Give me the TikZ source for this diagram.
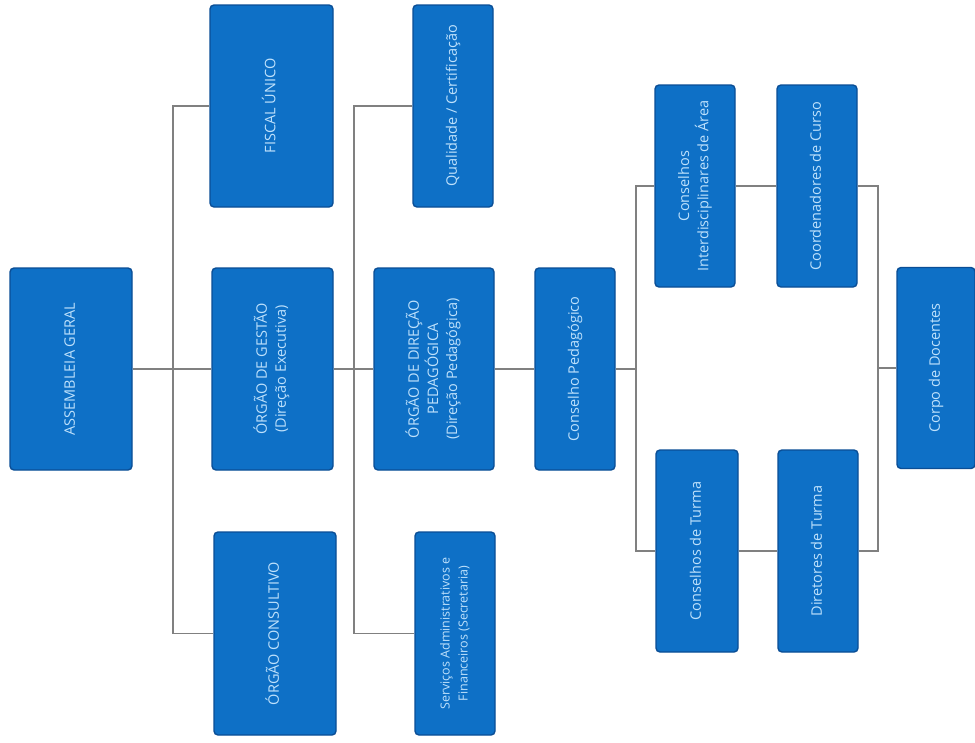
\documentclass[tikz,border=0pt]{standalone}
\usepackage{fontspec}
\setmainfont{Open Sans}
\definecolor{boxfill}{RGB}{14,112,198}
\definecolor{boxline}{RGB}{10,78,150}
\definecolor{boxtext}{RGB}{190,225,252}
\definecolor{conn}{RGB}{128,128,128}
\begin{document}
\begin{tikzpicture}[x=1pt,y=-1pt,
  orgbox/.style={draw=boxline, line width=1.4pt, fill=boxfill, rounded corners=4pt,
    minimum height=202pt, inner sep=0pt, text=boxtext,
    font=\fontsize{14.5}{19}\selectfont},
  link/.style={draw=conn, line width=1.1pt}]
\useasboundingbox (0,0) rectangle (975,742);
\fill[white] (0,0) rectangle (975,742);
\newcommand{\rt}[1]{\rotatebox{90}{\begin{tabular}{@{}c@{}}#1\end{tabular}}}
% boxes
\node[orgbox, minimum width=122pt] (ag) at (71,369) {\rt{ASSEMBLEIA GERAL}};
\node[orgbox, minimum width=123pt] (fiscal) at (271.5,106) {\rt{FISCAL ÚNICO}};
\node[orgbox, minimum width=121pt] (gestao) at (272.5,369) {\rt{ÓRGÃO DE GESTÃO\\(Direção Executiva)}};
\node[orgbox, minimum width=122pt, minimum height=203pt] (consult) at (275,633.5) {\rt{ÓRGÃO CONSULTIVO}};
\node[orgbox, minimum width=80pt] (qual) at (453,106) {\rt{Qualidade / Certificação}};
\node[orgbox, minimum width=120pt] (dir) at (434,369) {\rt{ÓRGÃO DE DIREÇÃO\\PEDAGÓGICA\\(Direção Pedagógica)}};
\node[orgbox, minimum width=80pt, minimum height=203pt, font=\fontsize{12.5}{18}\selectfont] (serv) at (455,633.5) {\rt{Serviços Administrativos e\\Financeiros (Secretaria)}};
\node[orgbox, minimum width=80pt] (cp) at (575,369) {\rt{Conselho Pedagógico}};
\node[orgbox, minimum width=80pt] (cons) at (695,186) {\rt{Conselhos\\Interdisciplinares de Área}};
\node[orgbox, minimum width=80pt] (coord) at (817,186) {\rt{Coordenadores de Curso}};
\node[orgbox, minimum width=82pt] (ct) at (697,551) {\rt{Conselhos de Turma}};
\node[orgbox, minimum width=80pt] (dt) at (818,551) {\rt{Diretores de Turma}};
\node[orgbox, minimum width=78pt, minimum height=201pt] (corpo) at (936,368) {\rt{Corpo de Docentes}};
% junctions
\coordinate (j1) at (173,369);
\coordinate (j2) at (354,369);
\coordinate (j3) at (636,369);
\coordinate (j4) at (878,368);
% connectors
\path[link] (ag) -- (gestao);
\path[link] (fiscal.west) -| (j1) |- (consult.west);
\path[link] (gestao) -- (dir);
\path[link] (qual.west) -| (j2) |- (serv.west);
\path[link] (dir) -- (cp);
\path[link] (cp.east) -- (j3);
\path[link] (cons.west) -| (j3) |- (ct.west);
\path[link] (cons) -- (coord);
\path[link] (ct) -- (dt);
\path[link] (coord.east) -| (j4) |- (dt.east);
\path[link] (j4) -- (corpo.west);
\end{tikzpicture}
\end{document}
